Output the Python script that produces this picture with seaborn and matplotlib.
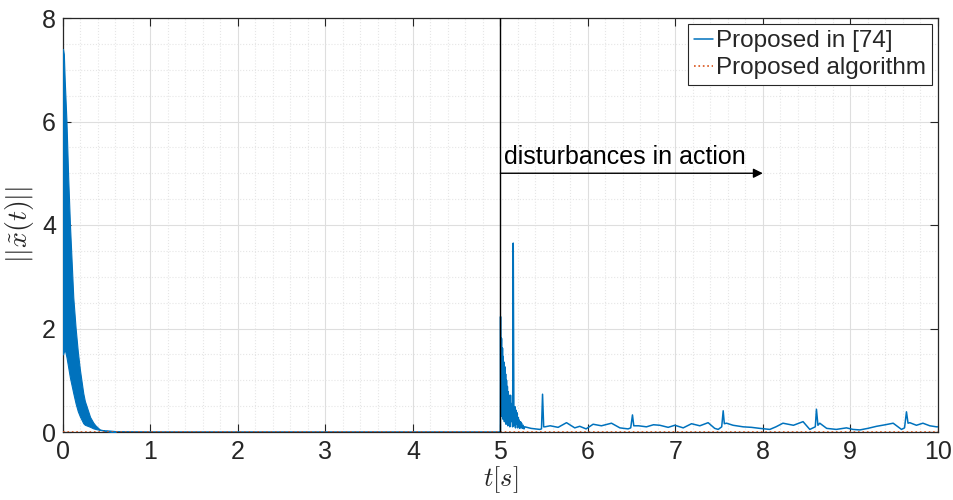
import matplotlib
matplotlib.use("Agg")
import matplotlib.pyplot as plt
from matplotlib.ticker import MultipleLocator
import seaborn as sns
import pandas as pd

# Initial transient of the method from [74]: dense oscillation band (upper / lower envelope)
t_band = [0.0, 0.01, 0.02, 0.04, 0.06, 0.08, 0.118, 0.145, 0.17, 0.194, 0.232, 0.25, 0.31, 0.347, 0.37, 0.42, 0.5, 0.6]
band_upper = [7.4, 7.3, 6.8, 6.0, 4.9, 4.0, 2.6, 2.0, 1.55, 1.2, 0.75, 0.6, 0.29, 0.18, 0.13, 0.05, 0.02, 0.0]
band_lower = [1.5, 1.55, 1.6, 1.45, 1.25, 1.05, 0.75, 0.55, 0.4, 0.3, 0.17, 0.14, 0.1, 0.07, 0.06, 0.04, 0.02, 0.0]

# Method from [74]: settled state and response once disturbances act (t >= 5 s)
t_ref = [0.5, 0.6, 1.0, 4.99, 5.0, 5.002, 5.006, 5.013, 5.018, 5.024, 5.028, 5.032, 5.037,
         5.042, 5.046, 5.051, 5.055, 5.06, 5.065, 5.07, 5.075, 5.08, 5.085, 5.09, 5.095,
         5.10, 5.108, 5.116, 5.123, 5.13, 5.14, 5.147, 5.155, 5.166, 5.173, 5.18, 5.186,
         5.192, 5.198, 5.205, 5.21, 5.215, 5.222, 5.23, 5.236, 5.242, 5.25, 5.26, 5.27, 5.28,
         5.35, 5.40, 5.451, 5.47, 5.482, 5.495, 5.509, 5.57, 5.66, 5.756, 5.85, 5.907,
         5.98, 6.06, 6.155, 6.27, 6.366, 6.46, 6.49, 6.51, 6.525, 6.58, 6.67, 6.75,
         6.823, 6.918, 6.994, 7.09, 7.185, 7.28, 7.375, 7.45, 7.49, 7.53, 7.547, 7.56,
         7.585, 7.66, 7.775, 7.87, 7.966, 8.08, 8.15, 8.23, 8.35, 8.46, 8.537, 8.60,
         8.613, 8.63, 8.651, 8.73, 8.84, 8.956, 9.03, 9.109, 9.2, 9.30, 9.4, 9.49,
         9.585, 9.62, 9.642, 9.66, 9.68, 9.756, 9.83, 9.909, 9.985, 10.0]
x_ref = [0.02, 0.005, 0.0, 0.0, 0.0, 2.23, 0.35, 1.81, 0.3, 1.62, 0.25, 1.46, 0.4,
         1.35, 0.2, 1.26, 0.35, 1.12, 0.15, 1.0, 0.3, 0.88, 0.12, 0.78, 0.25,
         0.71, 0.1, 0.71, 0.2, 0.55, 0.1, 3.65, 0.12, 0.49, 0.08, 0.42, 0.15,
         0.37, 0.08, 0.28, 0.12, 0.23, 0.07, 0.2, 0.1, 0.17, 0.07, 0.13, 0.06, 0.10,
         0.07, 0.06, 0.05, 0.06, 0.73, 0.10, 0.10, 0.12, 0.09, 0.18, 0.08, 0.11,
         0.06, 0.15, 0.12, 0.17, 0.08, 0.06, 0.08, 0.33, 0.12, 0.12, 0.10, 0.14,
         0.13, 0.09, 0.13, 0.08, 0.16, 0.12, 0.18, 0.07, 0.05, 0.10, 0.41, 0.16,
         0.17, 0.13, 0.10, 0.09, 0.07, 0.05, 0.10, 0.17, 0.13, 0.20, 0.05, 0.10,
         0.44, 0.13, 0.17, 0.07, 0.05, 0.08, 0.05, 0.04, 0.07, 0.11, 0.14, 0.17,
         0.05, 0.08, 0.39, 0.17, 0.18, 0.13, 0.17, 0.12, 0.10, 0.10]

# Proposed algorithm: error stays at zero throughout
t_prop = [0.0, 5.0, 10.0]
x_prop = [0.0, 0.0, 0.0]

x_ticks = list(range(0, 11))
y_ticks = [0, 2, 4, 6, 8]

blue = "#0072BD"
orange = "#D95319"
ink = "#262626"

sns.set_style("ticks")
plt.rcParams["font.family"] = ["Liberation Sans", "DejaVu Sans"]
plt.rcParams["mathtext.fontset"] = "cm"

fig = plt.figure(figsize=(9.54, 5.0), dpi=100)
ax = fig.add_axes([0.066, 0.136, 0.917, 0.828])

df_ref = pd.DataFrame({"t": t_ref, "x": x_ref})
df_prop = pd.DataFrame({"t": t_prop, "x": x_prop})

ax.fill_between(t_band, band_lower, band_upper, color=blue, linewidth=0.8, zorder=3)
sns.lineplot(data=df_ref, x="t", y="x", ax=ax, color=blue, linewidth=1.1,
             label="Proposed in [74]", zorder=3, estimator=None, sort=False)
sns.lineplot(data=df_prop, x="t", y="x", ax=ax, color=orange, linewidth=1.2,
             linestyle=":", label="Proposed algorithm", zorder=4, estimator=None)

# onset of disturbances
ax.axvline(5.0, color="black", linewidth=1.0, zorder=5)
ax.annotate("", xy=(8.0, 5.0), xytext=(5.0, 5.0),
            arrowprops=dict(arrowstyle="-|>", color="black", lw=1.0,
                            mutation_scale=14, shrinkA=0, shrinkB=0), zorder=6)
ax.text(5.04, 5.08, "disturbances in action", fontsize=18, ha="left", va="bottom",
        color="black", zorder=6)

ax.set_xlim(0, 10)
ax.set_ylim(0, 8)
ax.set_xticks(x_ticks)
ax.set_yticks(y_ticks)
ax.xaxis.set_minor_locator(MultipleLocator(0.2))
ax.yaxis.set_minor_locator(MultipleLocator(0.5))
ax.grid(which="major", color="#dedede", linewidth=0.8, linestyle="-", zorder=0)
ax.grid(which="minor", color="#e6e6e6", linewidth=0.8, linestyle=":", zorder=0)
ax.set_axisbelow(True)

ax.tick_params(which="major", direction="in", length=6, width=0.8, colors=ink,
               labelsize=18, top=True, right=True, labelcolor=ink)
ax.tick_params(which="minor", length=0, top=True, right=True)
ax.tick_params(axis="x", pad=6)
ax.tick_params(axis="y", pad=5)
for s in ax.spines.values():
    s.set_visible(True)
    s.set_color(ink)
    s.set_linewidth(0.9)

ax.set_xlabel(r"$t[s]$", fontsize=19, color=ink, labelpad=0)
ax.set_ylabel(r"$||\tilde{x}(t)||$", fontsize=20, color=ink, labelpad=4)

leg = ax.legend(loc="upper right", fontsize=17.5, frameon=True, fancybox=False,
                framealpha=1.0, edgecolor=ink, handlelength=0.8,
                handletextpad=0.1, borderpad=0.25, labelspacing=0.2,
                borderaxespad=0.25)
leg.get_frame().set_linewidth(0.8)

fig.savefig("out.png", dpi=100)
